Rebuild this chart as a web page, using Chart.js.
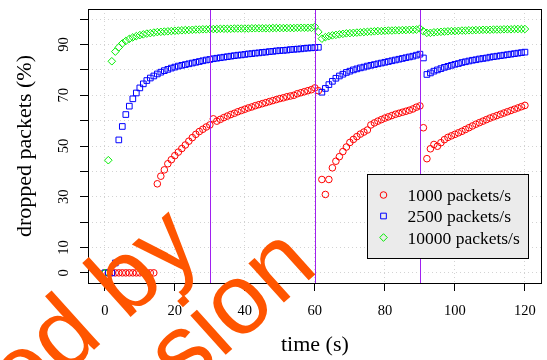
<!DOCTYPE html>
<html>
<head>
<meta charset="utf-8">
<script src="https://cdn.jsdelivr.net/npm/chart.js@4.4.1/dist/chart.umd.min.js"></script>
<style>
  body { margin: 0; background: #fff; }
</style>
</head>
<body>
<canvas id="chart" width="547" height="360"></canvas>
<script>
// time in seconds, one sample per second
const times = [
  0, 1, 2, 3, 4, 5, 6, 7, 8, 9, 10, 11, 12, 13, 14, 15, 16, 17, 18, 19,
  20, 21, 22, 23, 24, 25, 26, 27, 28, 29, 30, 31, 32, 33, 34, 35, 36, 37, 38, 39,
  40, 41, 42, 43, 44, 45, 46, 47, 48, 49, 50, 51, 52, 53, 54, 55, 56, 57, 58, 59,
  60, 61, 62, 63, 64, 65, 66, 67, 68, 69, 70, 71, 72, 73, 74, 75, 76, 77, 78, 79,
  80, 81, 82, 83, 84, 85, 86, 87, 88, 89, 90, 91, 92, 93, 94, 95, 96, 97, 98, 99,
  100, 101, 102, 103, 104, 105, 106, 107, 108, 109, 110, 111, 112, 113, 114, 115, 116, 117, 118, 119,
  120
];

// dropped packets (%) at 1000 packets/s
const rate1000 = [
  0, 0, 0, 0, 0, 0, 0, 0, 0, 0, 0, 0, 0, 0, 0, 35.1, 38.1, 40.6, 43.0, 44.6,
  46.2, 47.6, 49.0, 50.4, 51.9, 53.3, 54.6, 55.7, 56.6, 57.5, 58.3, 60.7, 59.8, 60.5, 61.2, 61.8, 62.4, 62.9, 63.5, 64.0,
  64.5, 65.0, 65.4, 65.9, 66.3, 66.7, 67.1, 67.5, 67.9, 68.3, 68.7, 69.0, 69.4, 69.7, 70.0, 70.6, 71.0, 71.4, 71.8, 72.2,
  72.9, 71.8, 36.8, 30.9, 36.8, 41.4, 44.0, 45.8, 47.8, 49.6, 51.4, 52.6, 53.7, 54.7, 55.5, 56.3, 58.3, 59.1, 59.8, 60.4,
  61.0, 61.5, 62.0, 62.5, 62.9, 63.3, 63.7, 64.1, 64.6, 65.3, 65.8, 57.2, 45.0, 48.9, 50.6, 49.9, 51.3, 52.5, 53.4, 54.0,
  54.6, 55.2, 55.8, 56.5, 57.2, 57.9, 58.6, 59.2, 59.8, 60.4, 61.0, 61.5, 62.0, 62.5, 63.0, 63.5, 64.0, 64.5, 65.0, 65.5,
  66.0
];

// dropped packets (%) at 2500 packets/s
const rate2500 = [
  0, 0, 0, 3.9, 52.4, 57.7, 62.4, 65.7, 68.6, 70.9, 72.9, 74.5, 75.8, 76.8, 77.6, 78.4, 79.1, 79.7, 80.2, 80.7,
  81.1, 81.5, 81.8, 82.1, 82.4, 82.7, 83.0, 83.3, 83.6, 83.9, 84.1, 84.4, 84.6, 84.8, 85.0, 85.2, 85.4, 85.6, 85.8, 85.9,
  86.1, 86.3, 86.4, 86.6, 86.7, 86.9, 87.0, 87.2, 87.3, 87.5, 87.6, 87.7, 87.8, 88.0, 88.1, 88.2, 88.3, 88.5, 88.6, 88.7,
  88.8, 88.9, 71.2, 72.7, 74.2, 75.5, 76.7, 77.6, 78.3, 79.0, 79.5, 80.0, 80.4, 80.8, 81.1, 81.5, 81.8, 82.1, 82.4, 82.7,
  83.0, 83.3, 83.6, 83.9, 84.2, 84.5, 84.8, 85.1, 85.4, 85.8, 86.2, 84.7, 78.2, 78.8, 79.5, 80.0, 80.5, 81.0, 81.4, 81.8,
  82.2, 82.5, 82.9, 83.2, 83.5, 83.8, 84.0, 84.3, 84.5, 84.7, 85.0, 85.2, 85.4, 85.6, 85.8, 86.0, 86.2, 86.4, 86.6, 86.8,
  87.0
];

// dropped packets (%) at 10000 packets/s
const rate10000 = [
  0, 44.4, 83.4, 87.2, 88.9, 90.4, 91.4, 92.2, 92.8, 93.3, 93.7, 94.0, 94.3, 94.5, 94.7, 94.9, 95.0, 95.1, 95.2, 95.3,
  95.4, 95.5, 95.6, 95.7, 95.7, 95.8, 95.9, 95.9, 96.0, 96.0, 96.1, 96.1, 96.1, 96.2, 96.2, 96.2, 96.2, 96.3, 96.3, 96.3,
  96.3, 96.3, 96.4, 96.4, 96.4, 96.4, 96.4, 96.4, 96.5, 96.5, 96.5, 96.5, 96.5, 96.5, 96.5, 96.6, 96.6, 96.6, 96.6, 96.6,
  97.0, 95.0, 92.3, 92.9, 93.3, 93.6, 93.8, 94.0, 94.2, 94.4, 94.5, 94.6, 94.7, 94.8, 94.9, 95.0, 95.1, 95.2, 95.3, 95.3,
  95.4, 95.5, 95.5, 95.6, 95.6, 95.7, 95.7, 95.8, 95.8, 95.9, 96.3, 95.2, 94.6, 94.6, 94.8, 94.9, 95.0, 95.1, 95.2, 95.3,
  95.3, 95.4, 95.5, 95.5, 95.6, 95.6, 95.7, 95.7, 95.8, 95.8, 95.8, 95.9, 95.9, 95.9, 96.0, 96.0, 96.0, 96.1, 96.1, 96.1,
  96.1
];

const seriesNames = ["1000 packets/s", "2500 packets/s", "10000 packets/s"];
const xTicks = [0, 20, 40, 60, 80, 100, 120];
const yGrid = [0, 10, 20, 30, 40, 50, 60, 70, 80, 90, 100];
const yLabels = [0, 10, 30, 50, 70, 90];
const markerLines = [30, 60, 90];

const serif = '"Liberation Serif", "Times New Roman", serif';

function toPoints(vals) {
  return times.map((t, i) => ({ x: t, y: vals[i] }));
}

function drawMarker(ctx, style, x, y, r) {
  ctx.beginPath();
  if (style === "circle") {
    ctx.arc(x, y, r, 0, Math.PI * 2);
  } else if (style === "rect") {
    const h = r * Math.SQRT1_2;
    ctx.rect(x - h, y - h, 2 * h, 2 * h);
  } else {
    ctx.moveTo(x - r, y);
    ctx.lineTo(x, y - r);
    ctx.lineTo(x + r, y);
    ctx.lineTo(x, y + r);
    ctx.closePath();
  }
  ctx.stroke();
}

// box, purple time markers
const framePlugin = {
  id: "frame",
  afterDatasetsDraw(chart) {
    const { ctx, chartArea: a, scales: { x } } = chart;
    ctx.save();
    ctx.lineWidth = 1;
    ctx.strokeStyle = "#A020F0";
    markerLines.forEach(t => {
      const px = Math.round(x.getPixelForValue(t)) + 0.5;
      ctx.beginPath();
      ctx.moveTo(px, a.top);
      ctx.lineTo(px, a.bottom);
      ctx.stroke();
    });
    ctx.strokeStyle = "#000";
    ctx.strokeRect(Math.round(a.left) + 0.5, Math.round(a.top) + 0.5,
      Math.round(a.right) - Math.round(a.left) - 1, Math.round(a.bottom) - Math.round(a.top));
    ctx.restore();
  }
};

// rotated y labels, titles, legend box, watermark
const textPlugin = {
  id: "texts",
  afterDraw(chart) {
    const { ctx, chartArea: a, scales: { y } } = chart;
    ctx.save();
    ctx.fillStyle = "#000";

    ctx.font = "14.5px " + serif;
    ctx.textAlign = "center";
    ctx.textBaseline = "alphabetic";
    yLabels.forEach(v => {
      ctx.save();
      ctx.translate(68, y.getPixelForValue(v));
      ctx.rotate(-Math.PI / 2);
      ctx.fillText(String(v), 0, 0);
      ctx.restore();
    });

    ctx.font = "22px " + serif;
    ctx.fillText("time (s)", (a.left + a.right) / 2, 351);
    ctx.save();
    ctx.translate(31, (a.top + a.bottom) / 2);
    ctx.rotate(-Math.PI / 2);
    ctx.fillText("dropped packets (%)", 0, 0);
    ctx.restore();

    // legend
    const lx = 367.5, ly = 174.5, lw = 161, lh = 84;
    ctx.fillStyle = "#EBEBEB";
    ctx.fillRect(lx, ly, lw, lh);
    ctx.strokeStyle = "#000";
    ctx.lineWidth = 1;
    ctx.strokeRect(lx, ly, lw, lh);
    const rows = [195, 216, 237.5];
    ctx.font = "17.5px " + serif;
    ctx.textAlign = "left";
    chart.data.datasets.forEach((ds, i) => {
      ctx.strokeStyle = ds.borderColor;
      drawMarker(ctx, ds.pointStyle, 383.5, rows[i], ds.pointRadius);
      ctx.fillStyle = "#000";
      ctx.fillText(ds.label, 407.5, rows[i] + 6);
    });

    // watermark
    ctx.fillStyle = "#FF5500";
    ctx.font = '100px "Liberation Sans", Arial, sans-serif';
    ctx.textAlign = "right";
    ctx.save();
    ctx.translate(320, 270);
    ctx.rotate(-42 * Math.PI / 180);
    ctx.fillText("permission", 0, 0);
    ctx.fillText("Reproduced by", -73, -92);
    ctx.restore();

    ctx.restore();
  }
};

new Chart(document.getElementById("chart"), {
  type: "scatter",
  data: {
    datasets: [
      {
        label: seriesNames[0],
        data: toPoints(rate1000),
        pointStyle: "circle",
        pointRadius: 3.3,
        borderColor: "#FF0000",
        backgroundColor: "transparent",
        borderWidth: 1,
        order: 2
      },
      {
        label: seriesNames[1],
        data: toPoints(rate2500),
        pointStyle: "rect",
        pointRadius: 4,
        borderColor: "#0000FF",
        backgroundColor: "transparent",
        borderWidth: 1,
        order: 1
      },
      {
        label: seriesNames[2],
        data: toPoints(rate10000),
        pointStyle: "rectRot",
        pointRadius: 3.8,
        borderColor: "#00EE00",
        backgroundColor: "transparent",
        borderWidth: 1,
        order: 0
      }
    ]
  },
  options: {
    responsive: false,
    animation: false,
    events: [],
    layout: { padding: { top: 9, right: 1, left: 0, bottom: 0 } },
    plugins: { legend: { display: false }, tooltip: { enabled: false } },
    scales: {
      x: {
        type: "linear",
        min: -4.8,
        max: 124.8,
        afterBuildTicks: s => { s.ticks = xTicks.map(v => ({ value: v })); },
        afterFit: s => { s.height = 77; },
        grid: { color: "#D3D3D3", tickColor: "#000", tickLength: 8, lineWidth: 1 },
        border: { display: false, dash: [1, 3] },
        ticks: {
          color: "#000",
          font: { family: serif, size: 14.5 },
          padding: 11,
          maxRotation: 0,
          callback: v => String(v)
        }
      },
      y: {
        type: "linear",
        min: -4,
        max: 104,
        afterBuildTicks: s => { s.ticks = yGrid.map(v => ({ value: v })); },
        afterFit: s => { s.width = 88; },
        grid: { color: "#D3D3D3", tickColor: "#000", tickLength: 8, lineWidth: 1 },
        border: { display: false, dash: [1, 3] },
        ticks: { display: false }
      }
    }
  },
  plugins: [framePlugin, textPlugin]
});
</script>
</body>
</html>
